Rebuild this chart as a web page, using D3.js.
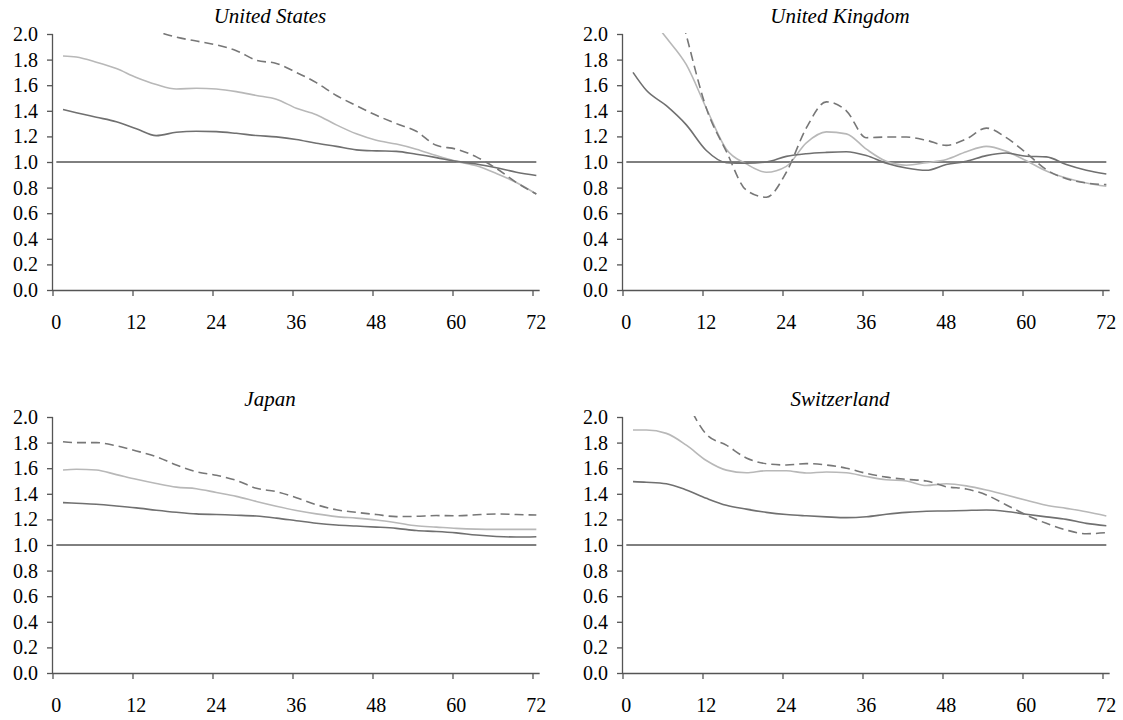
<!DOCTYPE html>
<meta charset="utf-8">
<script src="https://d3js.org/d3.v7.min.js"></script>
<style>
  body { margin: 0; background: #fff; }
</style>
<div id="chart"></div>
<script>
var months = [1,3,6,9,12,15,18,21,24,27,30,33,36,39,42,45,48,51,54,57,60,63,66,69,72];
var xTicks = [0,12,24,36,48,60,72];
var yTicks = [0,0.2,0.4,0.6,0.8,1.0,1.2,1.4,1.6,1.8,2.0];
var titles = ["United States","United Kingdom","Japan","Switzerland"];

// dark solid line
var usA = [1.41,1.385,1.35,1.315,1.26,1.206,1.232,1.24,1.237,1.224,1.207,1.196,1.176,1.146,1.122,1.095,1.087,1.083,1.06,1.034,1.005,0.985,0.955,0.92,0.895];
var ukA = [1.70,1.56,1.44,1.29,1.09,0.995,0.99,1.0,1.044,1.065,1.075,1.08,1.05,0.99,0.953,0.935,0.98,1.005,1.05,1.07,1.045,1.04,0.98,0.935,0.906];
var jpA = [1.331,1.326,1.318,1.305,1.29,1.272,1.256,1.243,1.238,1.233,1.226,1.21,1.19,1.17,1.156,1.148,1.14,1.13,1.113,1.106,1.095,1.078,1.067,1.062,1.065];
var chA = [1.495,1.49,1.478,1.43,1.365,1.31,1.28,1.255,1.238,1.228,1.22,1.214,1.221,1.24,1.255,1.264,1.266,1.27,1.273,1.262,1.24,1.22,1.2,1.169,1.151];

// light solid line
var usB = [1.828,1.82,1.78,1.73,1.66,1.605,1.57,1.576,1.57,1.55,1.52,1.49,1.42,1.37,1.29,1.22,1.17,1.14,1.10,1.05,1.005,0.97,0.91,0.84,0.75];
var ukB = [2.3,2.17,1.97,1.76,1.42,1.10,0.985,0.92,0.966,1.15,1.235,1.22,1.10,1.005,0.975,0.995,1.02,1.08,1.122,1.083,1.01,0.93,0.875,0.836,0.81];
var jpB = [1.586,1.592,1.586,1.55,1.513,1.48,1.452,1.44,1.41,1.38,1.34,1.303,1.27,1.243,1.222,1.21,1.195,1.174,1.15,1.14,1.13,1.124,1.122,1.122,1.122];
var chB = [1.898,1.898,1.872,1.78,1.66,1.585,1.565,1.58,1.58,1.562,1.57,1.565,1.535,1.51,1.5,1.465,1.478,1.462,1.43,1.39,1.35,1.31,1.286,1.26,1.227];

// dashed line (values above 2.0 are cut off by the frame)
var usC = [null,null,null,null,2.06,2.02,1.975,1.945,1.915,1.87,1.795,1.77,1.70,1.62,1.52,1.44,1.365,1.30,1.24,1.13,1.10,1.04,0.95,0.84,0.75];
var ukC = [null,null,2.6,1.99,1.42,1.083,0.78,0.725,0.92,1.266,1.47,1.40,1.19,1.195,1.195,1.17,1.13,1.18,1.265,1.19,1.07,0.94,0.87,0.836,0.823];
var jpC = [1.807,1.80,1.80,1.775,1.735,1.69,1.625,1.573,1.545,1.505,1.443,1.417,1.37,1.315,1.275,1.255,1.238,1.222,1.224,1.23,1.228,1.236,1.242,1.238,1.234];
var chC = [null,null,null,2.13,1.865,1.78,1.68,1.635,1.625,1.636,1.625,1.60,1.56,1.53,1.513,1.50,1.455,1.438,1.391,1.313,1.234,1.169,1.117,1.088,1.096];

var panels = [
  {title: titles[0], a: usA, b: usB, c: usC, left: 53, top: 34},
  {title: titles[1], a: ukA, b: ukB, c: ukC, left: 623, top: 34},
  {title: titles[2], a: jpA, b: jpB, c: jpC, left: 53, top: 417},
  {title: titles[3], a: chA, b: chB, c: chC, left: 623, top: 417}
];

var serif = "'Liberation Serif', 'Times New Roman', Times, serif";
var W = 1123, H = 720;
var pw = 73 * 480 / 72, ph = 256;

var svg = d3.select("#chart").append("svg")
  .attr("width", W).attr("height", H);

// category axis: one band per month 0..72
var x = d3.scaleBand().domain(d3.range(0, 73)).range([0, pw]).padding(0);
var bw = x.bandwidth();
var y = d3.scaleLinear().domain([0, 2]).range([ph, 0]);

var line = d3.line()
  .defined(function(d) { return d[1] != null; })
  .x(function(d) { return x(d[0]) + bw / 2; })
  .y(function(d) { return y(d[1]); })
  .curve(d3.curveMonotoneX);

panels.forEach(function(p, i) {
  var g = svg.append("g").attr("transform", "translate(" + p.left + "," + p.top + ")");

  g.append("clipPath").attr("id", "clip" + i)
    .append("rect").attr("x", 0).attr("y", -1).attr("width", pw + 4).attr("height", ph + 1);

  // y axis
  var ya = g.append("g").call(d3.axisLeft(y).tickValues(yTicks).tickFormat(d3.format(".1f")).tickSize(6).tickPadding(9));
  ya.attr("font-family", serif).attr("font-size", 20);
  ya.select(".domain").attr("d", "M-0.5," + ph + "V0").attr("stroke", "#555").attr("stroke-width", 1.3);
  ya.selectAll(".tick line").attr("stroke", "#555").attr("stroke-width", 1.3);
  ya.selectAll("text").attr("fill", "#000").style("font-family", serif).style("font-size", "20px");

  // x axis: ticks on category boundaries, labels on category centres
  var xa = g.append("g").attr("transform", "translate(0," + ph + ")");
  xa.append("path").attr("d", "M0,0.5H" + pw).attr("stroke", "#555").attr("stroke-width", 1.3).attr("fill", "none");
  xa.selectAll(".xt").data(xTicks).enter().append("line")
    .attr("x1", function(d) { return x(d); }).attr("x2", function(d) { return x(d); })
    .attr("y1", 0).attr("y2", 6).attr("stroke", "#555").attr("stroke-width", 1.3);
  xa.selectAll(".xl").data(xTicks).enter().append("text")
    .attr("x", function(d) { return x(d) + bw / 2; })
    .attr("y", 39).attr("text-anchor", "middle")
    .style("font-family", serif).style("font-size", "20px")
    .text(function(d) { return d; });

  // reference line at 1.0
  g.append("line")
    .attr("x1", x(0) + bw / 2).attr("x2", x(72) + bw / 2)
    .attr("y1", y(1)).attr("y2", y(1))
    .attr("stroke", "#000").attr("stroke-width", 1);

  var lg = g.append("g").attr("clip-path", "url(#clip" + i + ")");
  function draw(vals, color, dash) {
    lg.append("path")
      .datum(months.map(function(m, k) { return [m, vals[k]]; }))
      .attr("d", line)
      .attr("fill", "none")
      .attr("stroke", color)
      .attr("stroke-width", 1.6)
      .attr("stroke-dasharray", dash);
  }
  draw(p.b, "#b8b8b8", null);
  draw(p.a, "#707070", null);
  draw(p.c, "#777777", "9,5");

  g.append("text")
    .attr("x", 217).attr("y", -11)
    .attr("text-anchor", "middle")
    .style("font-family", serif)
    .style("font-style", "italic").style("font-size", "21px")
    .text(p.title);
});
</script>
